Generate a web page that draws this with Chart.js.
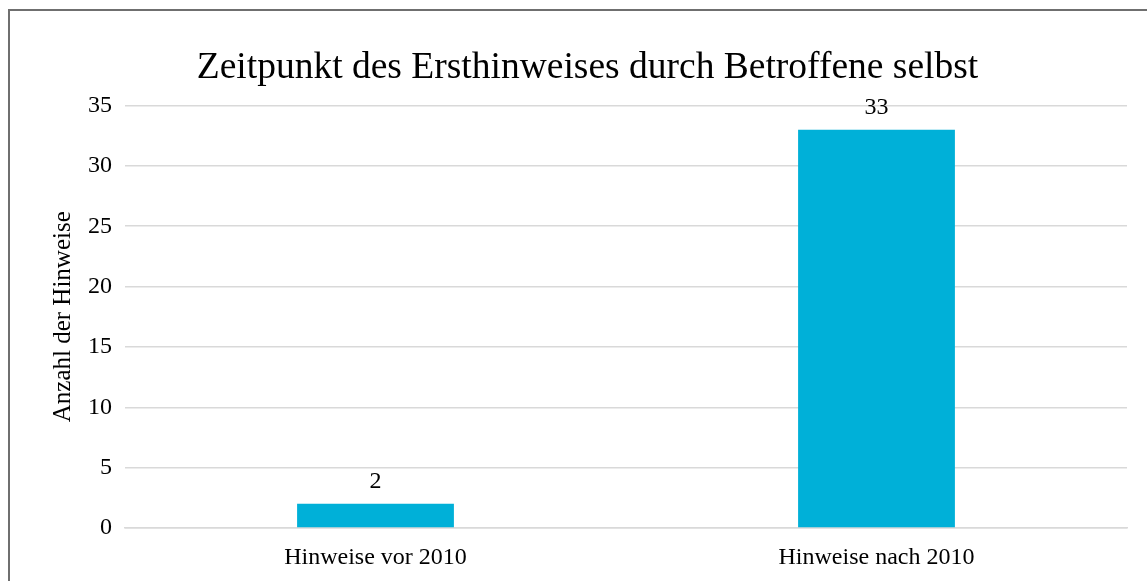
<!DOCTYPE html>
<html>
<head>
<meta charset="utf-8">
<script src="https://cdn.jsdelivr.net/npm/chart.js@4/dist/chart.umd.min.js"></script>
<style>
  html, body { margin: 0; padding: 0; background: #fff; overflow: hidden; }
  #frame { position: absolute; left: 8px; top: 9px; width: 1200px; height: 640px; border: 2px solid #6f6f6f; box-sizing: border-box; }
  #wrap { position: absolute; left: 0; top: 0; width: 1147px; height: 581px; }
</style>
</head>
<body>
<div id="frame"></div>
<div id="wrap"><canvas id="c" width="1147" height="581"></canvas></div>
<script>
const categories = ["Hinweise vor 2010", "Hinweise nach 2010"];
const values = [2, 33];
const chartTitle = "Zeitpunkt des Ersthinweises durch Betroffene selbst";
const yAxisTitle = "Anzahl der Hinweise";
const yMin = 0, yMax = 35, yStep = 5;

const FONT = "'Liberation Serif', 'Times New Roman', serif";

const valueLabels = {
  id: 'valueLabels',
  afterDatasetsDraw(chart) {
    const ctx = chart.ctx;
    const meta = chart.getDatasetMeta(0);
    ctx.save();
    ctx.font = "24px " + FONT;
    ctx.fillStyle = "#000";
    ctx.textAlign = "center";
    ctx.textBaseline = "middle";
    meta.data.forEach((bar, i) => {
      ctx.fillText(String(values[i]), bar.x, bar.y - 22);
    });
    ctx.restore();
  }
};

new Chart(document.getElementById('c'), {
  type: 'bar',
  data: {
    labels: categories,
    datasets: [{
      data: values,
      backgroundColor: '#00B0D8',
      borderWidth: 0,
      categoryPercentage: 1,
      barPercentage: 0.313
    }]
  },
  options: {
    responsive: false,
    animation: false,
    devicePixelRatio: 1,
    layout: { padding: { left: 48, right: 20, top: 24, bottom: 0 } },
    plugins: {
      legend: { display: false },
      tooltip: { enabled: false },
      title: {
        display: true,
        text: chartTitle,
        color: '#000',
        font: { family: FONT, size: 37.5, weight: 'normal', lineHeight: 1.2 },
        padding: { top: 22, bottom: 14.5 }
      }
    },
    scales: {
      x: {
        grid: { display: false, drawTicks: false },
        border: { display: true, color: '#d9d9d9', width: 1.5 },
        ticks: { color: '#000', font: { family: FONT, size: 24 }, padding: 15, maxRotation: 0 },
        afterFit(scale) { scale.height = 53; }
      },
      y: {
        min: yMin, max: yMax,
        ticks: { stepSize: yStep, color: '#000', font: { family: FONT, size: 24 }, padding: 13 },
        grid: { color: '#d9d9d9', lineWidth: 1.5, drawTicks: false },
        border: { display: false },
        title: {
          display: true, text: yAxisTitle, color: '#000',
          font: { family: FONT, size: 25, weight: 'normal', lineHeight: 1.2 },
          padding: { top: 0, bottom: 0 }
        },
        afterFit(scale) { scale.width = 125 - 48; }
      }
    }
  },
  plugins: [valueLabels]
});
</script>
</body>
</html>
